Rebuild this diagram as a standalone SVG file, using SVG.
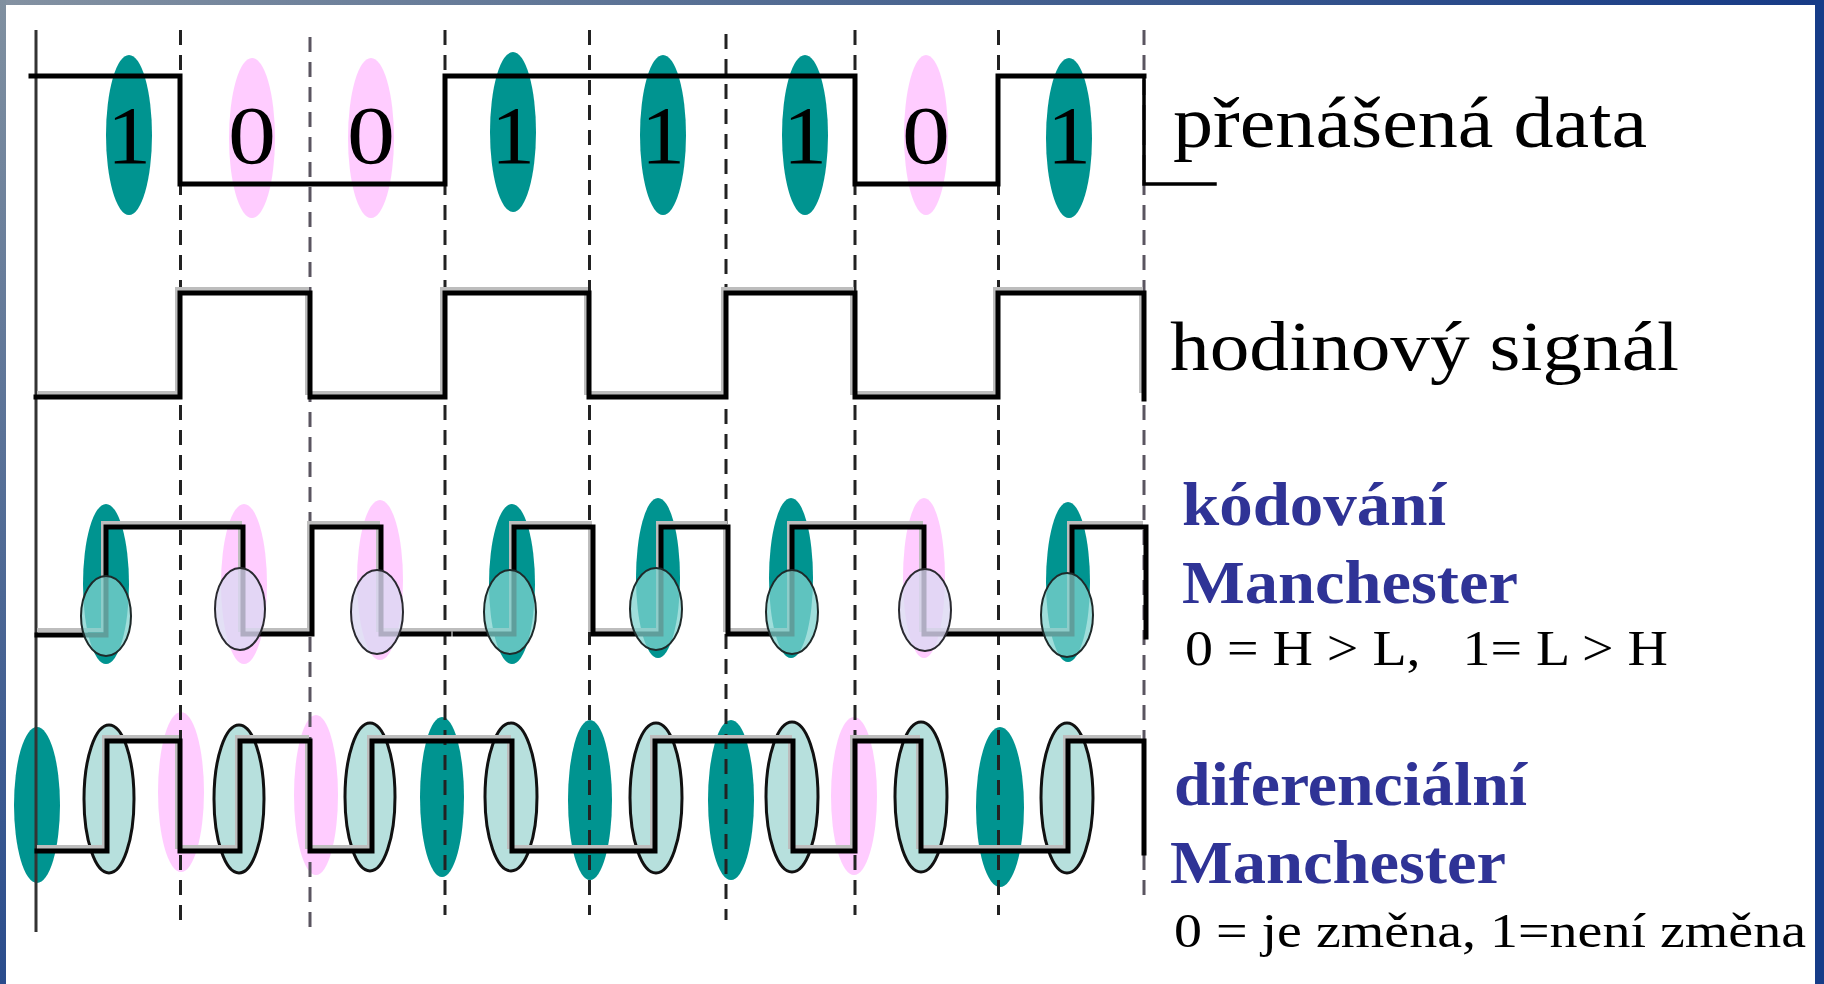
<svg xmlns="http://www.w3.org/2000/svg" width="1824" height="984" viewBox="0 0 1824 984">
<style>
.sig{fill:none;stroke:#000;stroke-width:5;stroke-linejoin:miter;stroke-linecap:square}
.shd{fill:none;stroke:#bdbdbd;stroke-width:4}
.dash{fill:none;stroke:#222;stroke-width:3;stroke-dasharray:15 10}
.dash2{fill:none;stroke:#5a5560;stroke-width:3;stroke-dasharray:15 10}
.one{fill:#009490}
.zero{fill:#ffccff}
.sm1{fill:#7fd3cf;fill-opacity:.75;stroke:#1e2a2a;stroke-width:2}
.sm0{fill:#dcd8f2;fill-opacity:.8;stroke:#2a2a30;stroke-width:2}
.dm{fill:#b7e0dd;stroke:#111;stroke-width:3}
.dig{font-family:"Liberation Serif","Times New Roman",serif;font-size:82px;fill:#000;text-anchor:middle}
.lbl{font-family:"Liberation Serif","Times New Roman",serif;fill:#000}
.blue{font-family:"Liberation Serif","Times New Roman",serif;font-weight:bold;fill:#2f3396;font-size:62px}
</style>
<defs>
<linearGradient id="gt" x1="0" y1="0" x2="1" y2="0"><stop offset="0" stop-color="#8492a2"/><stop offset="0.5" stop-color="#4a6590"/><stop offset="1" stop-color="#163a86"/></linearGradient>
<linearGradient id="gl" x1="0" y1="0" x2="0" y2="1"><stop offset="0" stop-color="#8090a0"/><stop offset="1" stop-color="#2a4c8c"/></linearGradient>
</defs>
<rect width="1824" height="984" fill="#fff"/>
<g id="frame">
<rect x="0" y="0" width="1824" height="5" fill="url(#gt)"/>
<rect x="0" y="0" width="6" height="984" fill="url(#gl)"/>
<rect x="1815" y="0" width="9" height="984" fill="#163c88"/>
</g>

<g id="data-ellipses">
<ellipse class="one" cx="129" cy="135" rx="23" ry="80"/>
<ellipse class="zero" cx="252" cy="138" rx="23" ry="80"/>
<ellipse class="zero" cx="371" cy="138" rx="23" ry="80"/>
<ellipse class="one" cx="513" cy="132" rx="23" ry="80"/>
<ellipse class="one" cx="663" cy="135" rx="23" ry="80"/>
<ellipse class="one" cx="805" cy="135" rx="23" ry="80"/>
<ellipse class="zero" cx="926" cy="135" rx="22" ry="80"/>
<ellipse class="one" cx="1069" cy="138" rx="23" ry="80"/>
</g>

<g id="manchester-ellipses">
<ellipse class="one" cx="106" cy="584" rx="23" ry="80"/>
<ellipse class="zero" cx="244" cy="584" rx="23" ry="80"/>
<ellipse class="zero" cx="380" cy="580" rx="23" ry="80"/>
<ellipse class="one" cx="512" cy="584" rx="23" ry="80"/>
<ellipse class="one" cx="658" cy="578" rx="22" ry="80"/>
<ellipse class="one" cx="791" cy="578" rx="22" ry="80"/>
<ellipse class="zero" cx="924" cy="578" rx="21" ry="80"/>
<ellipse class="one" cx="1068" cy="582" rx="22" ry="80"/>
</g>

<g id="diff-ellipses">
<ellipse class="one" cx="37" cy="805" rx="23" ry="78"/>
<ellipse class="zero" cx="181" cy="792" rx="23" ry="80"/>
<ellipse class="zero" cx="316" cy="795" rx="22" ry="80"/>
<ellipse class="one" cx="442" cy="797" rx="22" ry="80"/>
<ellipse class="one" cx="590" cy="800" rx="22" ry="80"/>
<ellipse class="one" cx="731" cy="800" rx="23" ry="80"/>
<ellipse class="zero" cx="854" cy="796" rx="23" ry="79"/>
<ellipse class="one" cx="1000" cy="807" rx="24" ry="80"/>
<ellipse class="dm" cx="109" cy="799" rx="25" ry="74"/>
<ellipse class="dm" cx="239" cy="799" rx="25" ry="74"/>
<ellipse class="dm" cx="370" cy="797" rx="25" ry="74"/>
<ellipse class="dm" cx="511" cy="797" rx="26" ry="74"/>
<ellipse class="dm" cx="656" cy="798" rx="26" ry="75"/>
<ellipse class="dm" cx="792" cy="797" rx="26" ry="75"/>
<ellipse class="dm" cx="921" cy="797" rx="26" ry="75"/>
<ellipse class="dm" cx="1067" cy="798" rx="26" ry="75"/>
</g>

<g id="grid">
<line x1="36" y1="30" x2="36" y2="932" stroke="#333" stroke-width="3"/>
<line class="dash" x1="180.5" y1="30" x2="180.5" y2="927"/>
<line class="dash2" x1="310" y1="37" x2="310" y2="928"/>
<line class="dash" x1="445" y1="30" x2="445" y2="915"/>
<line class="dash" x1="589.5" y1="30" x2="589.5" y2="915"/>
<line class="dash" x1="726" y1="34" x2="726" y2="920"/>
<line class="dash" x1="855" y1="30" x2="855" y2="915"/>
<line class="dash" x1="998.5" y1="30" x2="998.5" y2="915"/>
<line class="dash2" x1="1144" y1="30" x2="1144" y2="902"/>
</g>

<g id="connectors">
<g id="shadows" transform="translate(-3,-4)">
<path class="shd" d="M40 397 H180 V293 H310 V397 H445 V293 H589 V397 H726 V293 H855 V397 H998 V293 H1144 V397"/>
<path class="shd" d="M40 634 H106 V527 H243 V634 H312 V527 H381 V634 H514 V527 H593 V634 H661 V527 H728 V634 H792 V527 H924 V634 H1072 V527 H1146"/>
<path class="shd" d="M40 851 H107 V741 H180 V851 H240 V741 H310 V851 H372 V741 H512 V851 H655 V741 H793 V851 H855 V741 H921 V851 H1068 V741 H1144"/>
</g>
<path id="data-signal" class="sig" d="M31 76 H180 V184 H445 V76 H855 V184 H998 V76 H1144"/>
<path class="sig" style="stroke-width:3.5" d="M1144 76 V184 H1215"/>
<path id="clock-signal" class="sig" d="M36 397 H180 V293 H310 V397 H445 V293 H589 V397 H726 V293 H855 V397 H998 V293 H1144 V399"/>
<path id="manchester-signal" class="sig" d="M37 635 H106 V527 H243 V634 H312 V527 H381 V634 H449 M455 634 H514 V527 H593 V634 H661 V527 H728 V634 H792 V527 H924 V634 H1072 V527 H1146 V637"/>
<path id="diff-signal" class="sig" d="M37 851 H107 V741 H180 V851 H240 V741 H310 V851 H372 V741 H512 V851 H655 V741 H793 V851 H855 V741 H921 V851 H1068 V741 H1144 V853"/>
</g>

<g id="manchester-small">
<ellipse class="sm1" cx="106" cy="616" rx="25" ry="40"/>
<ellipse class="sm0" cx="240" cy="609" rx="25" ry="41"/>
<ellipse class="sm0" cx="377" cy="612" rx="26" ry="42"/>
<ellipse class="sm1" cx="510" cy="612" rx="26" ry="42"/>
<ellipse class="sm1" cx="656" cy="609" rx="26" ry="41"/>
<ellipse class="sm1" cx="792" cy="612" rx="26" ry="42"/>
<ellipse class="sm0" cx="925" cy="610" rx="26" ry="41"/>
<ellipse class="sm1" cx="1067" cy="615" rx="26" ry="42"/>
</g>

<g id="digits">
<text class="dig" x="129" y="163" textLength="44" lengthAdjust="spacingAndGlyphs">1</text>
<text class="dig" x="252" y="163" textLength="48" lengthAdjust="spacingAndGlyphs">0</text>
<text class="dig" x="371" y="163" textLength="48" lengthAdjust="spacingAndGlyphs">0</text>
<text class="dig" x="513" y="163" textLength="44" lengthAdjust="spacingAndGlyphs">1</text>
<text class="dig" x="663" y="163" textLength="44" lengthAdjust="spacingAndGlyphs">1</text>
<text class="dig" x="805" y="163" textLength="44" lengthAdjust="spacingAndGlyphs">1</text>
<text class="dig" x="926" y="163" textLength="48" lengthAdjust="spacingAndGlyphs">0</text>
<text class="dig" x="1069" y="163" textLength="44" lengthAdjust="spacingAndGlyphs">1</text>
</g>

<g id="label-data"><text class="lbl" x="1173" y="147" font-size="71" textLength="474" lengthAdjust="spacingAndGlyphs">přenášená data</text></g>
<g id="label-clock"><text class="lbl" x="1170" y="370" font-size="70" textLength="509" lengthAdjust="spacingAndGlyphs">hodinový signál</text></g>
<g id="label-manchester">
<text class="blue" x="1182" y="525" textLength="264" lengthAdjust="spacingAndGlyphs">kódování</text>
<text class="blue" x="1182" y="603" textLength="336" lengthAdjust="spacingAndGlyphs">Manchester</text>
<text class="lbl" x="1185" y="665" font-size="50" textLength="483" lengthAdjust="spacingAndGlyphs" xml:space="preserve">0 = H &gt; L,   1= L &gt; H</text>
</g>
<g id="label-diff">
<text class="blue" x="1174" y="805" textLength="353" lengthAdjust="spacingAndGlyphs">diferenciální</text>
<text class="blue" x="1170" y="883" textLength="336" lengthAdjust="spacingAndGlyphs">Manchester</text>
<text class="lbl" x="1174" y="947" font-size="48" textLength="632" lengthAdjust="spacingAndGlyphs" xml:space="preserve">0 = je změna, 1=není změna</text>
</g>
</svg>
